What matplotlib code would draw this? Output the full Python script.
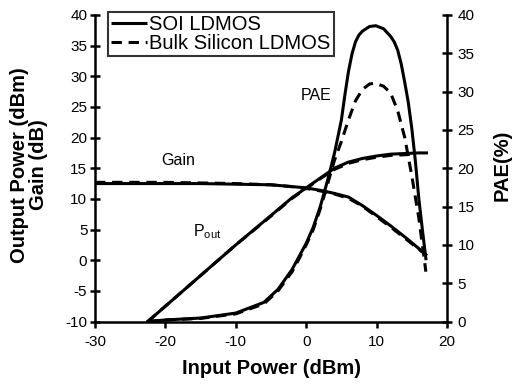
import matplotlib
matplotlib.use("Agg")
import matplotlib.pyplot as plt

plt.rcParams['font.family'] = ['Liberation Sans', 'DejaVu Sans']
plt.rcParams['mathtext.fontset'] = 'custom'
plt.rcParams['mathtext.rm'] = 'Liberation Sans'
plt.rcParams['mathtext.it'] = 'Liberation Sans'
plt.rcParams['axes.unicode_minus'] = False

# ---------------- data ----------------
pout_soi_x = [-22.5, -20, -15, -10, -5, -2, 0, 2, 4, 6, 8, 10, 12, 14, 16, 17.3]
pout_soi_y = [-10, -7.5, -2.5, 2.5, 7.3, 10.2, 11.8, 13.4, 15.0, 16.0, 16.6, 17.0, 17.3, 17.4, 17.5, 17.5]

pout_bulk_x = [-22.5, -20, -15, -10, -5, -2, 0, 2, 4, 6, 8, 10, 12, 14, 15.5]
pout_bulk_y = [-10, -7.5, -2.5, 2.5, 7.2, 10.1, 11.7, 13.3, 14.8, 15.8, 16.4, 16.8, 17.1, 17.2, 17.3]

gain_soi_x = [-30, -25, -20, -15, -10, -5, -2, 0, 2, 4, 6, 8, 10, 12, 14, 16, 17]
gain_soi_y = [12.5, 12.5, 12.5, 12.5, 12.4, 12.3, 12.0, 11.8, 11.4, 10.9, 10.3, 8.9, 7.3, 5.6, 3.8, 1.9, 0.9]

gain_bulk_x = [-30, -25, -20, -15, -10, -5, -2, 0, 2, 4, 6, 8, 10, 12, 14, 16, 16.5]
gain_bulk_y = [12.7, 12.7, 12.7, 12.6, 12.5, 12.3, 12.0, 11.7, 11.3, 10.8, 10.1, 8.8, 7.1, 5.4, 3.6, 1.8, 1.3]

pae_soi_x = [-22.5, -20, -15, -10, -6, -4, -2, -1, 0, 1, 2, 3, 4, 5, 5.5, 6, 6.5, 7, 7.5, 8, 9, 9.9,
             11, 12, 12.5, 13, 13.5, 14, 14.5, 15, 15.5, 16, 16.5, 17]
pae_soi_y = [0, 0.2, 0.45, 1.1, 2.5, 4.2, 6.8, 8.5, 10.2, 12.3, 15.0, 18.3, 21.9, 26.3, 29.6, 32.6, 34.9, 36.5, 37.4, 37.9, 38.5, 38.6,
             38.2, 37.2, 36.5, 35.4, 33.6, 31.2, 28.6, 25.2, 21.0, 16.0, 12.0, 8.2]

pae_bulk_x = [-22.5, -20, -15, -10, -6, -4, -2, -1, 0, 1, 2, 3, 4, 5, 6, 7, 8, 9, 9.8,
              11, 12, 13, 14, 15, 16, 16.5, 17]
pae_bulk_y = [0, 0.2, 0.4, 1.0, 2.3, 4.0, 6.5, 8.2, 10.0, 12.0, 14.7, 17.8, 21.0, 23.5, 26.3, 28.8, 30.3, 31.0, 31.1,
              30.7, 29.8, 27.5, 24.0, 19.0, 13.5, 10.0, 6.5]

x_ticks = [-30, -20, -10, 0, 10, 20]
left_ticks = [-10, -5, 0, 5, 10, 15, 20, 25, 30, 35, 40]
right_ticks = [0, 5, 10, 15, 20, 25, 30, 35, 40]

# ---------------- figure ----------------
W, H = 515, 385
fig = plt.figure(figsize=(W / 100, H / 100), dpi=100)
ax = fig.add_axes([95 / W, 1 - 321.5 / H, (447 - 95) / W, (321.5 - 15) / H])
ax2 = ax.twinx()

lw = 2.2
dash = (0, (3.4, 2.2))

ax.plot(pout_soi_x, pout_soi_y, color='black', lw=lw, solid_capstyle='butt', label='SOI LDMOS')
ax.plot(pout_bulk_x, pout_bulk_y, color='black', lw=lw, linestyle=dash, label='Bulk Silicon LDMOS')
ax.plot(gain_soi_x, gain_soi_y, color='black', lw=lw)
ax.plot(gain_bulk_x, gain_bulk_y, color='black', lw=lw, linestyle=dash)
ax2.plot(pae_soi_x, pae_soi_y, color='black', lw=lw)
ax2.plot(pae_bulk_x, pae_bulk_y, color='black', lw=lw, linestyle=dash)

ax.set_xlim(-30, 20)
ax.set_ylim(-10, 40)
ax2.set_ylim(0, 40)
ax.set_xticks(x_ticks)
ax.set_yticks(left_ticks)
ax2.set_yticks(right_ticks)

for a in (ax, ax2):
    a.spines['top'].set_visible(False)
    for s in ('left', 'right', 'bottom'):
        a.spines[s].set_linewidth(1.8)
ax.spines['right'].set_visible(False)
ax2.spines['left'].set_visible(False)
ax2.spines['bottom'].set_visible(False)

ax.tick_params(axis='x', direction='out', length=4, width=1.8, labelsize=11, pad=6)
ax.tick_params(axis='y', direction='inout', length=7, width=1.8, labelsize=11, pad=2)
ax2.tick_params(axis='y', direction='inout', length=7, width=1.8, labelsize=11, pad=4)

# annotations
ax.text(-18.2, 16.2, 'Gain', fontsize=11.5, ha='center', va='center')
ax.text(1.4, 26.8, 'PAE', fontsize=11.5, ha='center', va='center')
ax.text(-16.1, 4.7, r'P$_{\mathrm{out}}$', fontsize=11.5, ha='left', va='center')

# axis labels
fig.text(271 / W, 1 - 369 / H, 'Input Power (dBm)', fontsize=14.5, fontweight='bold',
         ha='center', va='center')
fig.text(29 / W, 1 - 165 / H, 'Output Power (dBm)\nGain (dB)', fontsize=14.5, fontweight='bold',
         ha='center', va='center', rotation=90, multialignment='center', linespacing=1.0)
fig.text(502 / W, 1 - 165 / H, 'PAE(%)', fontsize=14.5, fontweight='bold',
         ha='center', va='center', rotation=90)

leg = ax.legend(loc='upper left', bbox_to_anchor=(108 / W, 1 - 12 / H),
                bbox_transform=fig.transFigure, borderaxespad=0, fontsize=14.5,
                frameon=True, fancybox=False, handlelength=1.8, handletextpad=0.1,
                labelspacing=0.0, borderpad=0.15)
leg.get_frame().set_edgecolor('black')
leg.get_frame().set_linewidth(1.5)

fig.savefig('out.png', dpi=100)
